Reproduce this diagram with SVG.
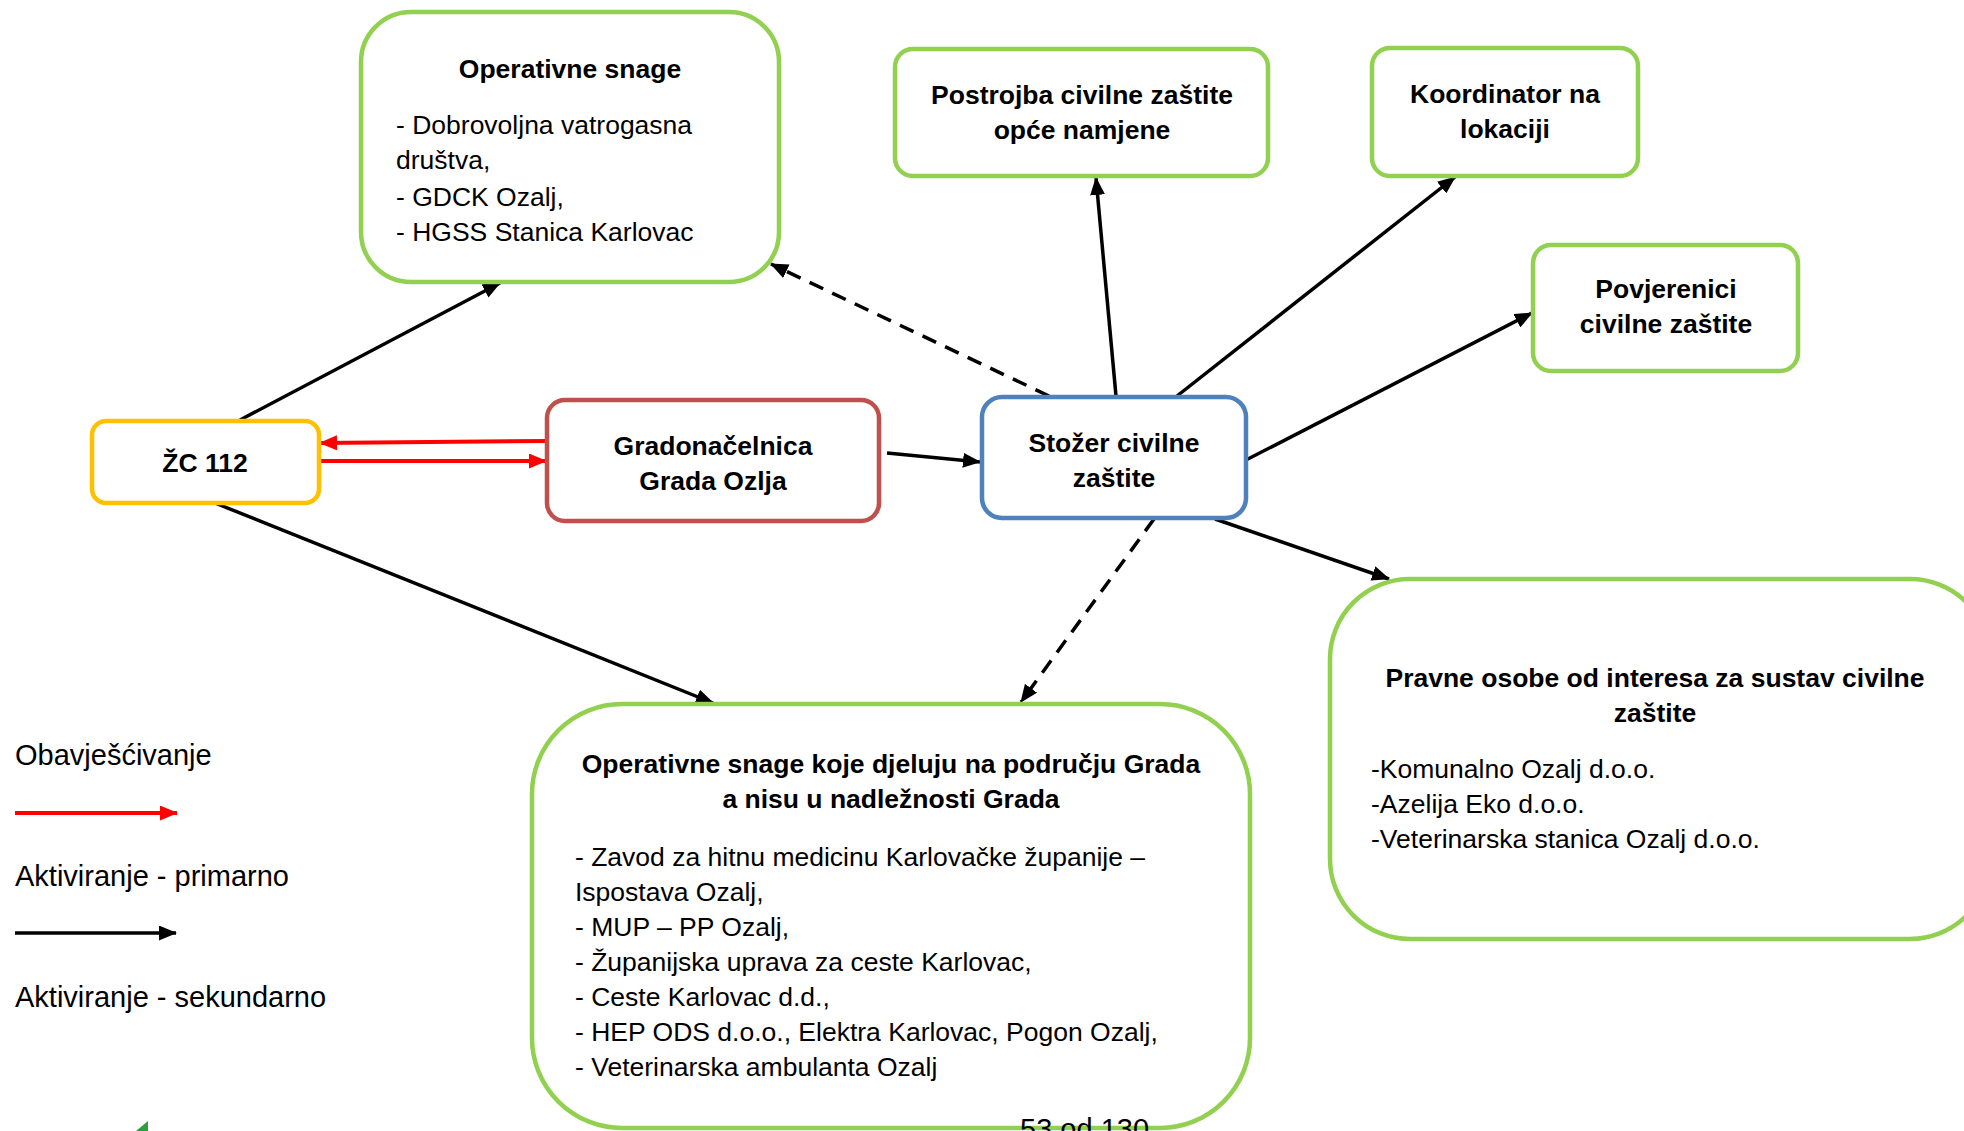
<svg xmlns="http://www.w3.org/2000/svg" width="1964" height="1131" viewBox="0 0 1964 1131">
<style>
  .box { fill: #ffffff; stroke-width: 4.5; }
  .green { stroke: #92d050; }
  .yellow { stroke: #ffc000; }
  .red { stroke: #c0504d; }
  .blue { stroke: #4f81bd; }
  text { font-family: "Liberation Sans", Arial, sans-serif; font-size: 26.5px; fill: #000000; }
  .b { font-weight: bold; }
  .c { text-anchor: middle; }
  .lg { font-size: 29px; }
  .ln { stroke: #000000; stroke-width: 3.5; fill: none; }
  .dash { stroke-dasharray: 15 10; }
  .rl { stroke: #ff0000; stroke-width: 4; fill: none; }
</style>
<defs>
  <marker id="ab" markerUnits="userSpaceOnUse" markerWidth="18" markerHeight="15" refX="17" refY="7.5" orient="auto">
    <path d="M0,0 L18,7.5 L0,15 Z" fill="#000000"/>
  </marker>
  <marker id="ar" markerUnits="userSpaceOnUse" markerWidth="18" markerHeight="15" refX="17" refY="7.5" orient="auto">
    <path d="M0,0 L18,7.5 L0,15 Z" fill="#ff0000"/>
  </marker>
</defs>
<rect width="1964" height="1131" fill="#ffffff"/>

<g id="connectors">
  <line class="ln" x1="240" y1="420" x2="500" y2="283" marker-end="url(#ab)"/>
  <line class="rl" x1="548" y1="441" x2="320" y2="443" marker-end="url(#ar)"/>
  <line class="rl" x1="320" y1="461" x2="546" y2="461" marker-end="url(#ar)"/>
  <line class="ln" x1="887" y1="453" x2="980" y2="462" marker-end="url(#ab)"/>
  <line class="ln dash" x1="1049" y1="396" x2="771" y2="264" marker-end="url(#ab)"/>
  <line class="ln" x1="1116" y1="396" x2="1096" y2="178" marker-end="url(#ab)"/>
  <line class="ln" x1="1177" y1="396" x2="1455" y2="177" marker-end="url(#ab)"/>
  <line class="ln" x1="1246" y1="460" x2="1532" y2="313" marker-end="url(#ab)"/>
  <line class="ln" x1="1215" y1="519" x2="1389" y2="579" marker-end="url(#ab)"/>
  <line class="ln dash" x1="1154" y1="519" x2="1021" y2="702" marker-end="url(#ab)"/>
  <line class="ln" x1="215" y1="503" x2="713" y2="703" marker-end="url(#ab)"/>
</g>

<g id="operativne-snage">
  <rect class="box green" x="361" y="12" width="418" height="270" rx="50" ry="50"/>
  <text class="b c" x="570" y="78">Operativne snage</text>
  <text x="396" y="134">- Dobrovoljna vatrogasna</text>
  <text x="396" y="169">društva,</text>
  <text x="396" y="206">- GDCK Ozalj,</text>
  <text x="396" y="241">- HGSS Stanica Karlovac</text>
</g>

<g id="zc112">
  <rect class="box yellow" x="92" y="421" width="227" height="82" rx="14" ry="14"/>
  <text class="b c" x="205" y="472">ŽC 112</text>
</g>

<g id="gradonacelnica">
  <rect class="box red" x="547" y="400" width="332" height="121" rx="18" ry="18"/>
  <text class="b c" x="713" y="455">Gradonačelnica</text>
  <text class="b c" x="713" y="490">Grada Ozlja</text>
</g>

<g id="stozer">
  <rect class="box blue" x="982" y="397" width="264" height="121" rx="20" ry="20"/>
  <text class="b c" x="1114" y="452">Stožer civilne</text>
  <text class="b c" x="1114" y="487">zaštite</text>
</g>

<g id="postrojba">
  <rect class="box green" x="895" y="49" width="373" height="127" rx="18" ry="18"/>
  <text class="b c" x="1082" y="104">Postrojba civilne zaštite</text>
  <text class="b c" x="1082" y="139">opće namjene</text>
</g>

<g id="koordinator">
  <rect class="box green" x="1372" y="48" width="266" height="128" rx="18" ry="18"/>
  <text class="b c" x="1505" y="103">Koordinator na</text>
  <text class="b c" x="1505" y="138">lokaciji</text>
</g>

<g id="povjerenici">
  <rect class="box green" x="1533" y="245" width="265" height="126" rx="18" ry="18"/>
  <text class="b c" x="1666" y="298">Povjerenici</text>
  <text class="b c" x="1666" y="333">civilne zaštite</text>
</g>

<g id="pravne-osobe">
  <rect class="box green" x="1330" y="579" width="660" height="360" rx="80" ry="80"/>
  <text class="b c" x="1655" y="687">Pravne osobe od interesa za sustav civilne</text>
  <text class="b c" x="1655" y="722">zaštite</text>
  <text x="1371" y="778">-Komunalno Ozalj d.o.o.</text>
  <text x="1371" y="813">-Azelija Eko d.o.o.</text>
  <text x="1371" y="848">-Veterinarska stanica Ozalj d.o.o.</text>
</g>

<g id="operativne-snage-grad">
  <rect class="box green" x="532" y="704" width="718" height="424" rx="90" ry="90"/>
  <text class="b c" x="891" y="773">Operativne snage koje djeluju na području Grada</text>
  <text class="b c" x="891" y="808">a nisu u nadležnosti Grada</text>
  <text x="575" y="866">- Zavod za hitnu medicinu Karlovačke županije –</text>
  <text x="575" y="901">Ispostava Ozalj,</text>
  <text x="575" y="936">- MUP – PP Ozalj,</text>
  <text x="575" y="971">- Županijska uprava za ceste Karlovac,</text>
  <text x="575" y="1006">- Ceste Karlovac d.d.,</text>
  <text x="575" y="1041">- HEP ODS d.o.o., Elektra Karlovac, Pogon Ozalj,</text>
  <text x="575" y="1076">- Veterinarska ambulanta Ozalj</text>
  <text x="1020" y="1139" style="font-size:29px">53 od 130</text>
</g>

<g id="legend">
  <text class="lg" x="15" y="765">Obavješćivanje</text>
  <line class="rl" x1="15" y1="813" x2="177" y2="813" marker-end="url(#ar)"/>
  <text class="lg" x="15" y="886">Aktiviranje - primarno</text>
  <line class="ln" x1="15" y1="933" x2="176" y2="933" marker-end="url(#ab)"/>
  <text class="lg" x="15" y="1007">Aktiviranje - sekundarno</text>
</g>

<polygon points="136,1131 148,1121 148,1131" fill="#2e9e3e"/>
</svg>
